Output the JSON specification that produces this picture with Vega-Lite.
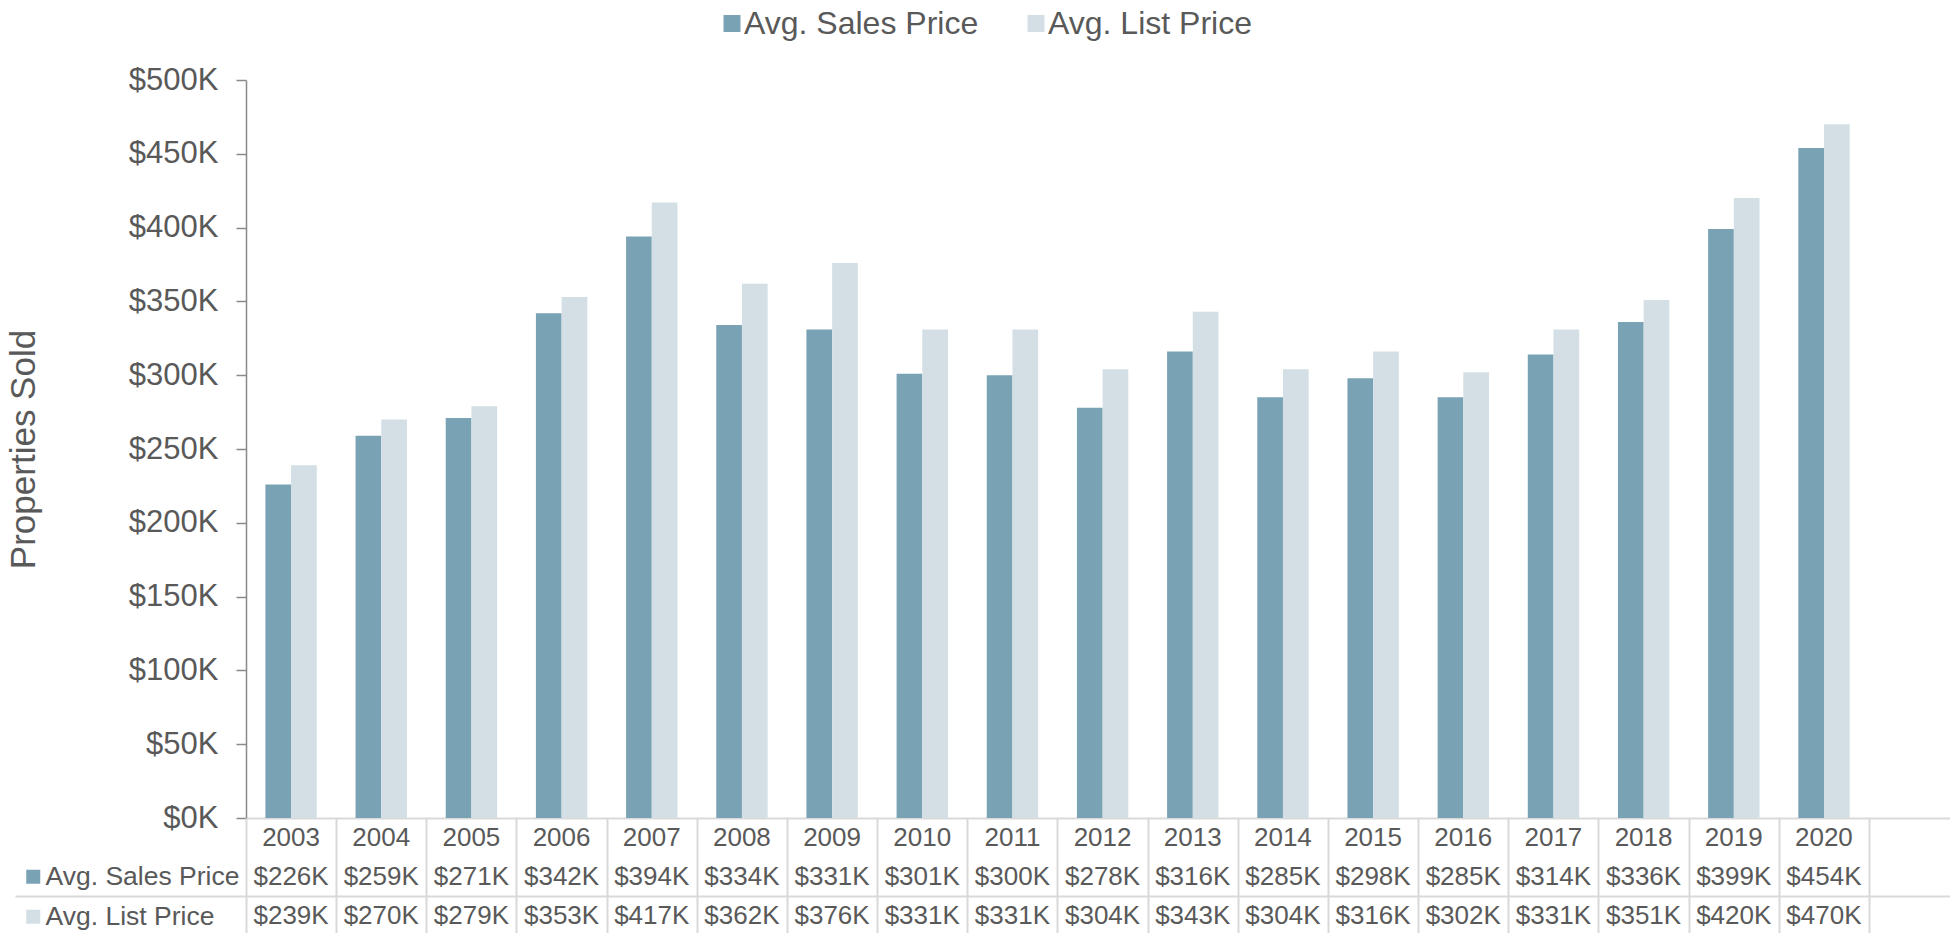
{
  "$schema": "https://vega.github.io/schema/vega-lite/v6.json",
  "background": "white",
  "padding": {"left": 6, "top": 7, "right": 0, "bottom": 0},
  "autosize": {"type": "pad"},
  "bounds": "flush",
  "spacing": 0,
  "config": {
    "font": "Liberation Sans",
    "view": {"stroke": null}
  },
  "datasets": {
    "prices": [
      {"year": "2003", "series": "Avg. Sales Price", "value": 226000},
      {"year": "2003", "series": "Avg. List Price", "value": 239000},
      {"year": "2004", "series": "Avg. Sales Price", "value": 259000},
      {"year": "2004", "series": "Avg. List Price", "value": 270000},
      {"year": "2005", "series": "Avg. Sales Price", "value": 271000},
      {"year": "2005", "series": "Avg. List Price", "value": 279000},
      {"year": "2006", "series": "Avg. Sales Price", "value": 342000},
      {"year": "2006", "series": "Avg. List Price", "value": 353000},
      {"year": "2007", "series": "Avg. Sales Price", "value": 394000},
      {"year": "2007", "series": "Avg. List Price", "value": 417000},
      {"year": "2008", "series": "Avg. Sales Price", "value": 334000},
      {"year": "2008", "series": "Avg. List Price", "value": 362000},
      {"year": "2009", "series": "Avg. Sales Price", "value": 331000},
      {"year": "2009", "series": "Avg. List Price", "value": 376000},
      {"year": "2010", "series": "Avg. Sales Price", "value": 301000},
      {"year": "2010", "series": "Avg. List Price", "value": 331000},
      {"year": "2011", "series": "Avg. Sales Price", "value": 300000},
      {"year": "2011", "series": "Avg. List Price", "value": 331000},
      {"year": "2012", "series": "Avg. Sales Price", "value": 278000},
      {"year": "2012", "series": "Avg. List Price", "value": 304000},
      {"year": "2013", "series": "Avg. Sales Price", "value": 316000},
      {"year": "2013", "series": "Avg. List Price", "value": 343000},
      {"year": "2014", "series": "Avg. Sales Price", "value": 285000},
      {"year": "2014", "series": "Avg. List Price", "value": 304000},
      {"year": "2015", "series": "Avg. Sales Price", "value": 298000},
      {"year": "2015", "series": "Avg. List Price", "value": 316000},
      {"year": "2016", "series": "Avg. Sales Price", "value": 285000},
      {"year": "2016", "series": "Avg. List Price", "value": 302000},
      {"year": "2017", "series": "Avg. Sales Price", "value": 314000},
      {"year": "2017", "series": "Avg. List Price", "value": 331000},
      {"year": "2018", "series": "Avg. Sales Price", "value": 336000},
      {"year": "2018", "series": "Avg. List Price", "value": 351000},
      {"year": "2019", "series": "Avg. Sales Price", "value": 399000},
      {"year": "2019", "series": "Avg. List Price", "value": 420000},
      {"year": "2020", "series": "Avg. Sales Price", "value": 454000},
      {"year": "2020", "series": "Avg. List Price", "value": 470000}
    ]
  },
  "resolve": {
    "scale": {"x": "independent", "y": "independent", "color": "shared"},
    "legend": {"color": "independent"}
  },
  "vconcat": [
    {
      "width": 1704,
      "height": 738,
      "data": {"name": "prices"},
      "mark": {"type": "bar"},
      "encoding": {
        "x": {
          "field": "year", "type": "nominal",
          "scale": {"paddingInner": 0.43, "paddingOuter": 0.6637, "align": 0.162},
          "axis": {"title": null, "labels": false, "ticks": false, "grid": false, "domain": true, "domainColor": "#D9D9D9", "domainWidth": 2}
        },
        "xOffset": {
          "field": "series", "type": "nominal",
          "scale": {"domain": ["Avg. Sales Price", "Avg. List Price"], "paddingInner": 0, "paddingOuter": 0}
        },
        "y": {
          "field": "value", "type": "quantitative",
          "scale": {"domain": [0, 500000], "nice": false},
          "axis": {
            "title": "Properties Sold", "titleFontSize": 35, "titleFontWeight": "normal", "titleColor": "#595959", "titlePadding": 87,
            "values": [0, 50000, 100000, 150000, 200000, 250000, 300000, 350000, 400000, 450000, 500000],
            "labelExpr": "'$' + format(datum.value / 1000, 'd') + 'K'",
            "labelFontSize": 31, "labelColor": "#595959", "labelPadding": 18,
            "tickSize": 10, "tickColor": "#898989", "tickWidth": 1.5,
            "domainColor": "#898989", "domainWidth": 1.5, "grid": false
          }
        },
        "color": {
          "field": "series", "type": "nominal",
          "scale": {"domain": ["Avg. Sales Price", "Avg. List Price"], "range": ["#79A3B4", "#D3DFE5"]},
          "legend": {
            "title": null, "orient": "none", "legendX": 470, "legendY": -72.5, "direction": "horizontal",
            "symbolType": "square", "symbolSize": 289, "symbolStrokeWidth": 0, "symbolOpacity": 1,
            "labelFontSize": 32, "labelColor": "#595959", "labelOffset": -4, "labelLimit": 0, "columnPadding": 41, "padding": 0
          }
        }
      }
    },
    {
      "width": 1704,
      "height": 117,
      "data": {"name": "prices"},
      "encoding": {
        "x": {
          "field": "year", "type": "nominal",
          "scale": {"paddingInner": 0, "paddingOuter": 0.4492, "align": 0},
          "axis": {"title": null, "orient": "top", "labels": false, "ticks": false, "domain": false, "grid": true, "gridColor": "#D9D9D9", "gridWidth": 2, "tickBand": "extent"}
        }
      },
      "layer": [
        {
          "mark": {"type": "text", "fontSize": 26, "color": "#595959", "baseline": "middle", "text": {"expr": "'$' + format(datum.value / 1000, 'd') + 'K'"}},
          "encoding": {
            "y": {
              "field": "series", "type": "nominal",
              "scale": {"domain": ["Year", "Avg. Sales Price", "Avg. List Price"], "paddingInner": 0, "paddingOuter": 0},
              "axis": {"title": null, "labels": false, "domain": false, "ticks": true, "tickSize": 231, "tickColor": "#D9D9D9", "tickWidth": 2, "grid": true, "gridColor": "#D9D9D9", "gridWidth": 2, "values": ["Avg. List Price"], "tickBand": "extent"}
            }
          }
        },
        {
          "transform": [{"filter": "datum.series === 'Avg. Sales Price'"}],
          "mark": {"type": "text", "fontSize": 26, "color": "#595959", "baseline": "middle"},
          "encoding": {
            "y": {"datum": "Year"},
            "text": {"field": "year"}
          }
        },
        {
          "mark": {"type": "bar", "opacity": 0},
          "encoding": {
            "y": {"field": "series", "type": "nominal"},
            "color": {
              "field": "series", "type": "nominal",
              "legend": {
                "title": null, "orient": "none", "legendX": -226, "legendY": 45.5, "direction": "vertical",
                "symbolType": "square", "symbolSize": 196, "symbolStrokeWidth": 0, "symbolOpacity": 1,
                "labelFontSize": 26.5, "labelColor": "#595959", "labelOffset": -1, "labelLimit": 0, "rowPadding": 13, "padding": 0
              }
            }
          }
        }
      ]
    }
  ]
}
